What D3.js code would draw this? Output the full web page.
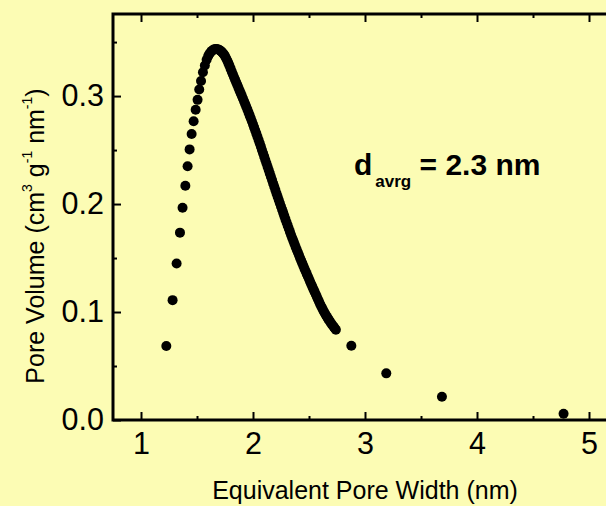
<!DOCTYPE html>
<html>
<head>
<meta charset="utf-8">
<script src="https://cdn.jsdelivr.net/npm/d3@7"></script>
<style>
  html, body { margin: 0; padding: 0; background: #FCFCB4; }
  svg { display: block; }
  text { font-family: "Liberation Sans", Arial, Helvetica, sans-serif; fill: #000; }
</style>
</head>
<body>
<svg id="chart" width="606" height="506"></svg>
<script>
// Pore size distribution (DFT), equivalent pore width in nm
const poreWidth = [
  1.226, 1.282, 1.318, 1.348, 1.371, 1.396, 1.416, 1.434, 1.452, 1.470,
  1.488, 1.505, 1.520, 1.536, 1.553, 1.570, 1.586, 1.600, 1.61, 1.62,
  1.63, 1.64, 1.65, 1.66, 1.67, 1.68, 1.69, 1.70, 1.71, 1.72,
  1.73, 1.74, 1.75, 1.76, 1.77, 1.78, 1.79, 1.80, 1.81, 1.82,
  1.83, 1.84, 1.85, 1.86, 1.87, 1.88, 1.89, 1.90, 1.91, 1.92,
  1.93, 1.94, 1.95, 1.96, 1.97, 1.98, 1.99, 2.00, 2.01, 2.02,
  2.03, 2.04, 2.05, 2.06, 2.07, 2.08, 2.09, 2.10, 2.11, 2.12,
  2.13, 2.14, 2.15, 2.16, 2.17, 2.18, 2.19, 2.20, 2.21, 2.22,
  2.23, 2.24, 2.25, 2.26, 2.27, 2.28, 2.29, 2.30, 2.31, 2.32,
  2.33, 2.34, 2.35, 2.36, 2.37, 2.38, 2.39, 2.40, 2.41, 2.42,
  2.43, 2.44, 2.45, 2.46, 2.47, 2.48, 2.49, 2.50, 2.51, 2.52,
  2.53, 2.54, 2.55, 2.56, 2.57, 2.58, 2.59, 2.60, 2.61, 2.62,
  2.63, 2.64, 2.65, 2.66, 2.67, 2.68, 2.69, 2.70, 2.71, 2.72,
  2.73, 2.74, 2.878, 3.19, 3.687, 4.773
];

// Pore volume, cm3 g-1 nm-1
const poreVolume = [
  0.0685, 0.111, 0.145, 0.1735, 0.1966, 0.217, 0.235, 0.2506, 0.2648, 0.2766,
  0.2873, 0.2965, 0.3060, 0.3140, 0.3220, 0.3283, 0.3336, 0.3370, 0.3389, 0.3404,
  0.3416, 0.3425, 0.3431, 0.3434, 0.3435, 0.3434, 0.3431, 0.3426, 0.3419, 0.3410,
  0.3399, 0.3386, 0.3370, 0.3351, 0.3329, 0.3305, 0.3280, 0.3254, 0.3228, 0.3202,
  0.3177, 0.3152, 0.3127, 0.3102, 0.3077, 0.3052, 0.3027, 0.3002, 0.2977, 0.2952,
  0.2927, 0.2901, 0.2875, 0.2848, 0.2821, 0.2794, 0.2766, 0.2738, 0.2710, 0.2681,
  0.2652, 0.2623, 0.2593, 0.2563, 0.2532, 0.2501, 0.2470, 0.2439, 0.2408, 0.2377,
  0.2346, 0.2315, 0.2284, 0.2253, 0.2222, 0.2191, 0.2160, 0.2129, 0.2098, 0.2068,
  0.2038, 0.2008, 0.1978, 0.1948, 0.1918, 0.1888, 0.1858, 0.1829, 0.1800, 0.1771,
  0.1742, 0.1714, 0.1686, 0.1659, 0.1632, 0.1605, 0.1579, 0.1553, 0.1527, 0.1501,
  0.1476, 0.1451, 0.1426, 0.1401, 0.1377, 0.1353, 0.1329, 0.1305, 0.1281, 0.1257,
  0.1233, 0.1210, 0.1187, 0.1164, 0.1141, 0.1118, 0.1095, 0.1072, 0.1051, 0.1030,
  0.1010, 0.0991, 0.0973, 0.0956, 0.0939, 0.0923, 0.0907, 0.0892, 0.0877, 0.0863,
  0.0849, 0.0835, 0.0688, 0.0432, 0.0216, 0.0058
];

const xMajorTicks = [1, 2, 3, 4, 5];
const xMinorTicks = [1.5, 2.5, 3.5, 4.5];
const yMajorTicks = [0.0, 0.1, 0.2, 0.3];
const yMinorTicks = [0.05, 0.15, 0.25, 0.35];

const xTitle = "Equivalent Pore Width (nm)";
const averageWidth = 2.3;

const svg = d3.select("#chart");
const W = 606, H = 506;
const plot = { left: 113, top: 14, bottom: 420, right: 617 };

svg.append("rect").attr("width", W).attr("height", H).attr("fill", "#FCFCB4");

const x = d3.scaleLinear().domain([0.75, 5.25]).range([plot.left, plot.right]);
const y = d3.scaleLinear().domain([0, 0.376]).range([plot.bottom, plot.top]);

const fontTick = 30.5;

function styleAxis(g, width) {
  g.select(".domain").remove();
  g.selectAll(".tick line").attr("stroke", "#000").attr("stroke-width", width);
}

// bottom axis: major ticks with labels, pointing inward
const gBottom = svg.append("g").attr("transform", `translate(0,${plot.bottom})`)
  .call(d3.axisBottom(x).tickValues(xMajorTicks).tickSizeInner(-8).tickSizeOuter(0)
    .tickPadding(12).tickFormat(d3.format("d")));
styleAxis(gBottom, 2);
gBottom.selectAll(".tick text").attr("font-size", fontTick).attr("font-family", null);

svg.append("g").attr("transform", `translate(0,${plot.bottom})`)
  .call(d3.axisBottom(x).tickValues(xMinorTicks).tickSizeInner(-4).tickSizeOuter(0).tickFormat(""))
  .call(g => styleAxis(g, 2));

// top axis: mirrored ticks, no labels
svg.append("g").attr("transform", `translate(0,${plot.top})`)
  .call(d3.axisTop(x).tickValues(xMajorTicks).tickSizeInner(-8).tickSizeOuter(0).tickFormat(""))
  .call(g => styleAxis(g, 2));
svg.append("g").attr("transform", `translate(0,${plot.top})`)
  .call(d3.axisTop(x).tickValues(xMinorTicks).tickSizeInner(-4).tickSizeOuter(0).tickFormat(""))
  .call(g => styleAxis(g, 2));

// left axis
const gLeft = svg.append("g").attr("transform", `translate(${plot.left},0)`)
  .call(d3.axisLeft(y).tickValues(yMajorTicks).tickSizeInner(-8).tickSizeOuter(0)
    .tickPadding(9).tickFormat(d3.format(".1f")));
styleAxis(gLeft, 2);
gLeft.selectAll(".tick text").attr("font-size", fontTick).attr("font-family", null).attr("dy", "0.3em");

svg.append("g").attr("transform", `translate(${plot.left},0)`)
  .call(d3.axisLeft(y).tickValues(yMinorTicks).tickSizeInner(-4).tickSizeOuter(0).tickFormat(""))
  .call(g => styleAxis(g, 2));

// frame lines (left, top, bottom); the right side runs past the page edge
svg.append("path")
  .attr("d", `M${plot.right},${plot.top} H${plot.left} V${plot.bottom} H${plot.right}`)
  .attr("fill", "none").attr("stroke", "#000").attr("stroke-width", 3)
  .attr("stroke-linecap", "square").attr("stroke-linejoin", "miter");

// data points
const points = poreWidth.map((w, i) => ({ w, v: poreVolume[i] }));
svg.append("g").selectAll("circle").data(points).join("circle")
  .attr("cx", d => x(d.w)).attr("cy", d => y(d.v)).attr("r", 5).attr("fill", "#000");

// axis titles
svg.append("text")
  .attr("x", 365).attr("y", 499).attr("text-anchor", "middle")
  .attr("font-size", 25).text(xTitle);

const yt = svg.append("text")
  .attr("transform", "translate(44,236) rotate(-90)")
  .attr("text-anchor", "middle").attr("font-size", 25);
yt.append("tspan").text("Pore Volume (cm");
yt.append("tspan").attr("font-size", 14).attr("dy", -12).text("3");
yt.append("tspan").attr("dy", 12).text(" g");
yt.append("tspan").attr("font-size", 14).attr("dy", -12).text("-1");
yt.append("tspan").attr("dy", 12).text(" nm");
yt.append("tspan").attr("font-size", 14).attr("dy", -12).text("-1");
yt.append("tspan").attr("dy", 12).text(")");

// average pore width annotation
const ann = svg.append("text").attr("x", 354).attr("y", 175)
  .attr("font-size", 30).attr("font-weight", "bold");
ann.append("tspan").text("d");
ann.append("tspan").attr("font-size", 17).attr("dx", 3).attr("dy", 12).text("avrg");
ann.append("tspan").attr("dy", -12).text(` = ${averageWidth} nm`);
</script>
</body>
</html>
